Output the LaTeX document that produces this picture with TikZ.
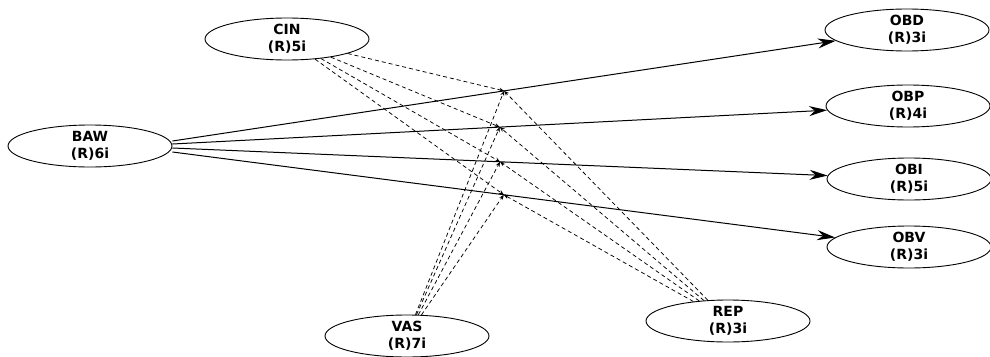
\documentclass[tikz,border=0pt]{standalone}
\usepackage{fontspec}
\setmainfont{DejaVu Sans}
\usetikzlibrary{shapes.geometric,arrows.meta,calc}
\begin{document}
\begin{tikzpicture}[x=1pt,y=-1pt,
  lv/.style={ellipse,draw,line width=0.9pt,inner sep=0pt,minimum width=164pt,minimum height=42pt,
    align=center,font=\fontsize{14}{17}\selectfont\bfseries},
  pathline/.style={line width=1pt,-{Stealth[length=18pt,width=10pt]}},
  modline/.style={line width=0.75pt,dash pattern=on 4pt off 3pt,-{Stealth[length=5pt,width=4pt]}}]
\useasboundingbox[fill=white] (0,0) rectangle (990,356);
\node[lv] (CIN) at (287,39) {CIN\\(R)5i};
\node[lv] (BAW) at (90,146) {BAW\\(R)6i};
\node[lv] (VAS) at (407,336) {VAS\\(R)7i};
\node[lv] (REP) at (728,321) {REP\\(R)3i};
\node[lv] (OBD) at (907,30) {OBD\\(R)3i};
\node[lv] (OBP) at (908,106) {OBP\\(R)4i};
\node[lv] (OBI) at (909,179) {OBI\\(R)5i};
\node[lv] (OBV) at (909,247) {OBV\\(R)3i};
\coordinate (b1) at ($(BAW.east)+(0,-5)$);
\coordinate (b2) at ($(BAW.east)+(0,-2)$);
\coordinate (b3) at ($(BAW.east)+(0,2)$);
\coordinate (b4) at ($(BAW.east)+(0,6)$);
\draw[pathline] (b1) -- coordinate[pos=0.5] (m1) (OBD);
\draw[pathline] (b2) -- coordinate[pos=0.5] (m2) (OBP);
\draw[pathline] (b3) -- coordinate[pos=0.5] (m3) (OBI);
\draw[pathline] (b4) -- coordinate[pos=0.5] (m4) (OBV);
\foreach \s in {CIN,VAS,REP}{
  \foreach \m in {m1,m2,m3,m4}{
    \draw[modline] (\s) -- (\m);
  }
}
\end{tikzpicture}
\end{document}
